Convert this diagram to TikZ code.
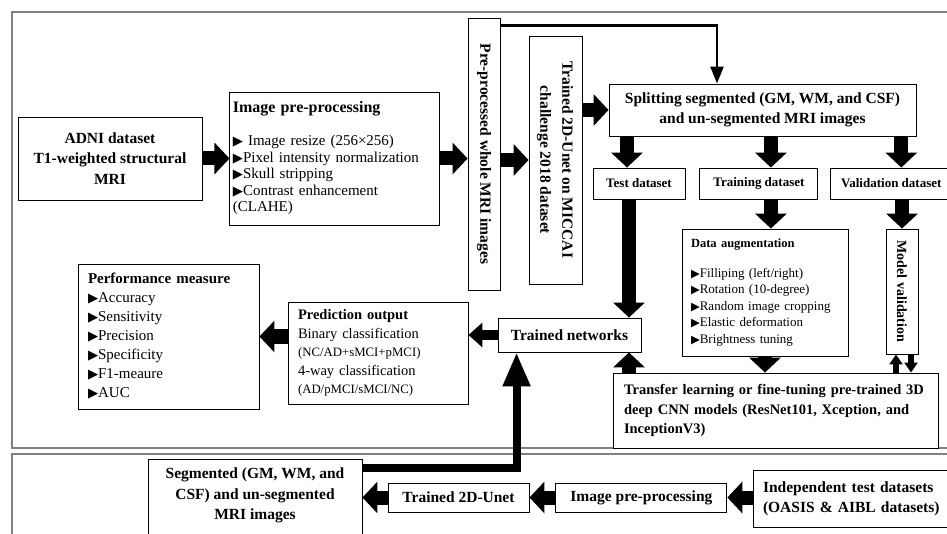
\documentclass[tikz,border=0pt]{standalone}
\usepackage{fontspec}
\setmainfont{Liberation Serif}
\newfontfamily\symfont{DejaVu Sans}
\usetikzlibrary{arrows.meta,positioning}
\newcommand{\bul}{{\symfont\scalebox{0.88}{▶}}}

\begin{document}
\begin{tikzpicture}[
  x=1pt,y=-1pt,
  box/.style={draw,line width=0.9pt,fill=white,inner sep=0pt,align=center,font=\bfseries\fontsize{15.5}{20.5}\selectfont},
  dset/.style={box,font=\bfseries\fontsize{13}{16}\selectfont},
  lst/.style={draw,line width=0.9pt,fill=white,inner ysep=0pt,align=left},
  frame/.style={draw=black!50,line width=1.5pt},
  fat/.style={line width=14pt,-{Triangle[length=15pt,width=31pt]}},
  midarr/.style={line width=10pt,-{Triangle[length=14pt,width=24pt]}},
  tiny/.style={line width=6pt,-{Triangle[length=10pt,width=13pt]}},
  segarr/.style={line width=8pt,-{Triangle[length=34pt,width=26pt]}},
  thinarr/.style={line width=2.5pt,-{Triangle[length=17pt,width=13pt]}}
]
\useasboundingbox (0,0) rectangle (947,534);
\draw[frame] (12,12) rectangle (960,448);
\draw[frame] (12,454) rectangle (960,560);

\node[box,minimum width=184,minimum height=83] (adni) at (110,158.5) {ADNI dataset\\T1-weighted structural\\MRI};
\node[lst,right=27pt of adni,text width=204,inner xsep=3,minimum height=133,font=\fontsize{15}{16.5}\selectfont] (imgpre)
  {\textbf{\fontsize{16}{16.5}\selectfont Image pre-processing}\\[16.5pt]
   \bul\ Image resize (256×256)\\ \bul Pixel intensity normalization\\ \bul Skull stripping\\ \bul Contrast enhancement\\ (CLAHE)};
\node[box,minimum width=32,minimum height=272] (ppwhole) at (484,154) {\rotatebox{-90}{Pre-processed whole MRI images}};
\node[box,minimum width=53,minimum height=248] (unet) at (555.5,160)
  {\rotatebox{-90}{\begin{tabular}{@{}c@{}}Trained 2D-Unet on MICCAI\\[1.5pt] challenge 2018 dataset\end{tabular}}};
\node[box,minimum width=307,minimum height=52] (split) at (762.5,110) {Splitting segmented (GM, WM, and CSF)\\and un-segmented MRI images};
\node[dset,minimum width=92,minimum height=31] (test) at (639,183.5) {Test dataset};
\node[dset,right=14pt of test,minimum width=118,minimum height=31] (train) {Training dataset};
\node[dset,right=12pt of train,minimum width=121,minimum height=31] (valid) {Validation dataset};
\node[lst,text width=148,inner xsep=9,minimum height=127,font=\fontsize{13}{16.5}\selectfont] (aug) at (765,292.5)
  {\textbf{\fontsize{12.5}{16.5}\selectfont Data augmentation}\\[13pt]
   \bul Filliping (left/right)\\ \bul Rotation (10-degree)\\ \bul Random image cropping\\ \bul Elastic deformation\\ \bul Brightness tuning};
\node[box,minimum width=32,minimum height=125,font=\bfseries\fontsize{14}{16}\selectfont] (mval) at (902,291.5) {\rotatebox{-90}{Model validation}};
\node[lst,text width=303,inner xsep=11,minimum height=75,font=\bfseries\fontsize{14.5}{19.5}\selectfont] (transfer) at (775.5,410.5)
  {\makebox[\linewidth][s]{Transfer learning or fine-tuning pre-trained 3D}\\
   \makebox[\linewidth][s]{deep CNN models (ResNet101, Xception, and}\\ InceptionV3)};
\node[box,minimum width=143,minimum height=34] (trnet) at (569.5,335) {Trained networks};
\node[lst,text width=160,inner xsep=10,minimum height=102,font=\fontsize{14.5}{18.5}\selectfont] (pred) at (378,353)
  {\textbf{Prediction output}\\ Binary classification\\ {\fontsize{12.8}{18.5}\selectfont (NC/AD+sMCI+pMCI)}\\
   4-way classification\\ {\fontsize{12.8}{18.5}\selectfont (AD/pMCI/sMCI/NC)}};
\node[lst,text width=161,inner xsep=10,minimum height=145,font=\fontsize{15}{19}\selectfont] (perf) at (168.5,336.5)
  {\textbf{Performance measure}\\ \bul Accuracy\\ \bul Sensitivity\\ \bul Precision\\ \bul Specificity\\ \bul F1-meaure\\ \bul AUC};

\node[box,minimum width=214,minimum height=81,text depth=11pt] (seg) at (255,499.5) {Segmented (GM, WM, and\\CSF) and un-segmented\\MRI images};
\node[box,minimum width=141,minimum height=29] (unet2) at (458.5,497.5) {Trained 2D-Unet};
\node[box,right=26pt of unet2,minimum width=171,minimum height=29] (imgpre2) {Image pre-processing};
\node[lst,text width=177,inner xsep=10,minimum height=57,font=\bfseries\fontsize{15.5}{20}\selectfont] (indep) at (851.5,498.5)
  {Independent test datasets\\(OASIS \& AIBL datasets)};

\draw[fat] (adni) -- (imgpre);
\draw[fat] (imgpre.east) -- (imgpre.east -| ppwhole.west);
\draw[fat] (unet.west -| ppwhole.east) -- (unet.west);
\draw[fat] (split.west -| unet.east) -- (split.west);
\draw[thinarr] ([yshift=-8pt]ppwhole.north east) -| ([xshift=-45.5pt]split.north);
\draw[fat] ([xshift=-12pt]test.north |- split.south) -- ([xshift=-12pt]test.north);
\draw[fat] ([xshift=12pt]train.north |- split.south) -- ([xshift=12pt]train.north);
\draw[fat] ([xshift=10pt]valid.north |- split.south) -- ([xshift=10pt]valid.north);
\draw[fat] ([xshift=-10pt]test.south) -- ([xshift=-10pt]test.south |- trnet.north);
\draw[fat] ([xshift=12pt]train.south) -- ([xshift=12pt]train.south |- aug.north);
\draw[fat] (mval.north |- valid.south) -- (mval.north);
\draw[fat] (aug.south) -- (aug.south |- transfer.north);
\draw[tiny] ([xshift=-6pt]mval.south |- transfer.north) -- ([xshift=-6pt]mval.south);
\draw[tiny] ([xshift=9pt]mval.south) -- ([xshift=9pt]mval.south |- transfer.north);
\draw[fat] ([xshift=-10pt]test.south |- transfer.north) -- ([xshift=-10pt]test.south |- trnet.south);
\draw[midarr] (trnet.west) -- (trnet.west -| pred.east);
\draw[fat] (perf.east -| pred.west) -- (perf.east);
\draw[segarr] ([yshift=-9pt]seg.north east) -| ([xshift=19pt]trnet.south west);
\draw[fat] (unet2.west) -- (unet2.west -| seg.east);
\draw[fat] (imgpre2) -- (unet2);
\draw[fat] (indep.west |- imgpre2.east) -- (imgpre2.east);
\end{tikzpicture}
\end{document}
